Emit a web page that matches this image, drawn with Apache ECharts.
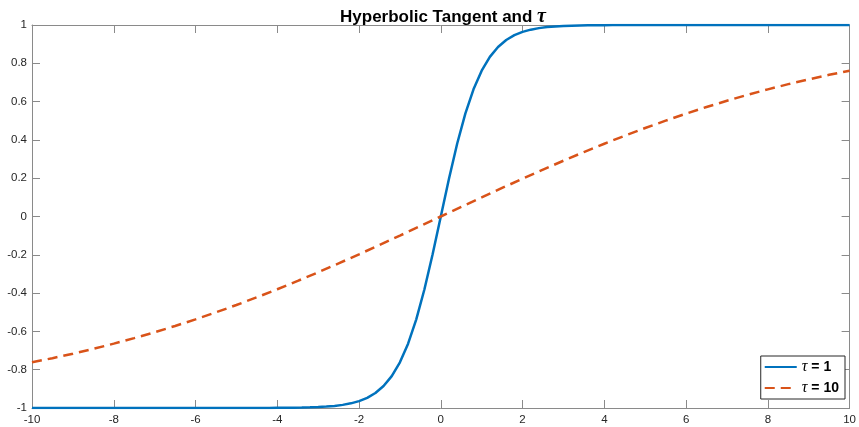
<!DOCTYPE html>
<html>
<head>
<meta charset="utf-8">
<script src="https://cdn.jsdelivr.net/npm/echarts@6/dist/echarts.min.js"></script>
<style>
  html, body { margin: 0; padding: 0; background: #fff; }
  #chart { width: 859px; height: 427px; }
</style>
</head>
<body>
<div id="chart"></div>
<script>
// tau = 1 curve: sampled densely around the origin where it bends
const xTau1 = [-10, -9, -8, -7, -6, -5, -4.8, -4.6, -4.4, -4.2, -4, -3.8, -3.6, -3.4, -3.2, -3,
  -2.8, -2.6, -2.4, -2.2, -2, -1.8, -1.6, -1.4, -1.2, -1, -0.8, -0.6, -0.4, -0.2, 0,
  0.2, 0.4, 0.6, 0.8, 1, 1.2, 1.4, 1.6, 1.8, 2, 2.2, 2.4, 2.6, 2.8, 3, 3.2, 3.4, 3.6,
  3.8, 4, 4.2, 4.4, 4.6, 4.8, 5, 6, 7, 8, 9, 10];
const yTau1 = [-1, -1, -1, -1, -1, -0.9999, -0.9999, -0.9998, -0.9997, -0.9996, -0.9993, -0.9990,
  -0.9985, -0.9978, -0.9967, -0.9951, -0.9926, -0.9890, -0.9837, -0.9757, -0.9640, -0.9468,
  -0.9217, -0.8854, -0.8337, -0.7616, -0.6640, -0.5370, -0.3799, -0.1974, 0,
  0.1974, 0.3799, 0.5370, 0.6640, 0.7616, 0.8337, 0.8854, 0.9217, 0.9468, 0.9640, 0.9757,
  0.9837, 0.9890, 0.9926, 0.9951, 0.9967, 0.9978, 0.9985, 0.9990, 0.9993, 0.9996, 0.9997,
  0.9998, 0.9999, 0.9999, 1, 1, 1, 1, 1];

// tau = 10 curve
const xTau10 = [-10, -9.5, -9, -8.5, -8, -7.5, -7, -6.5, -6, -5.5, -5, -4.5, -4, -3.5, -3, -2.5,
  -2, -1.5, -1, -0.5, 0, 0.5, 1, 1.5, 2, 2.5, 3, 3.5, 4, 4.5, 5, 5.5, 6, 6.5, 7, 7.5, 8,
  8.5, 9, 9.5, 10];
const yTau10 = [-0.7616, -0.7398, -0.7163, -0.6911, -0.6640, -0.6352, -0.6044, -0.5717, -0.5371,
  -0.5005, -0.4621, -0.4219, -0.3799, -0.3364, -0.2913, -0.2449, -0.1974, -0.1489, -0.0997,
  -0.0500, 0, 0.0500, 0.0997, 0.1489, 0.1974, 0.2449, 0.2913, 0.3364, 0.3799, 0.4219,
  0.4621, 0.5005, 0.5371, 0.5717, 0.6044, 0.6352, 0.6640, 0.6911, 0.7163, 0.7398, 0.7616];

const xTicks = { min: -10, max: 10, interval: 2 };
const yTicks = { min: -1, max: 1, interval: 0.2 };

const titleMain = 'Hyperbolic Tangent and ';
const tauSymbol = 'τ';
const legendNames = ['τ = 1', 'τ = 10'];

const axisGray = '#8a8a8a';
const labelColor = '#262626';
const sansFont = '"Liberation Sans", Arial, Helvetica, sans-serif';
const serifFont = '"Liberation Serif", "Times New Roman", serif';

function pairs(xs, ys) { return xs.map((x, i) => [x, ys[i]]); }

function fmtY(v) {
  const r = Math.round(v * 10) / 10;
  if (r === 0) return '0';
  if (r === 1) return '1';
  if (r === -1) return '-1';
  return String(r);
}

const chart = echarts.init(document.getElementById('chart'), null, { renderer: 'canvas' });

const baseX = {
  type: 'value', min: xTicks.min, max: xTicks.max, interval: xTicks.interval,
  axisLine: { show: true, onZero: false, lineStyle: { color: axisGray, width: 1 } },
  axisTick: { show: true, inside: true, length: 8, lineStyle: { color: axisGray } },
  splitLine: { show: false }
};
const baseY = {
  type: 'value', min: yTicks.min, max: yTicks.max, interval: yTicks.interval,
  axisLine: { show: true, onZero: false, lineStyle: { color: axisGray, width: 1 } },
  axisTick: { show: true, inside: true, length: 8, lineStyle: { color: axisGray } },
  splitLine: { show: false }
};

chart.setOption({
  animation: false,
  backgroundColor: '#ffffff',
  title: {
    text: '{m|' + titleMain + '}{t|' + tauSymbol + '}',
    left: 438, top: 2, textAlign: 'center',
    textStyle: {
      rich: {
        m: { fontFamily: sansFont, fontWeight: 'bold', fontSize: 17, color: '#000' },
        t: { fontFamily: serifFont, fontStyle: 'italic', fontSize: 20, color: '#000' }
      }
    }
  },
  grid: { left: 32, right: 7, top: 25, bottom: 19, containLabel: false },
  xAxis: [
    Object.assign({}, baseX, {
      position: 'bottom',
      axisLabel: { show: true, margin: 6, color: labelColor, fontSize: 11.5, fontFamily: sansFont }
    }),
    Object.assign({}, baseX, { position: 'top', axisLabel: { show: false } })
  ],
  yAxis: [
    Object.assign({}, baseY, {
      position: 'left',
      axisLabel: { show: true, margin: 5, color: labelColor, fontSize: 11.5, fontFamily: sansFont,
        formatter: fmtY }
    }),
    Object.assign({}, baseY, { position: 'right', axisLabel: { show: false } })
  ],
  legend: {
    data: legendNames,
    orient: 'vertical',
    right: 14, bottom: 28,
    itemWidth: 32, itemHeight: 12, itemGap: 5,
    backgroundColor: '#fff',
    borderColor: '#262626', borderWidth: 1, borderRadius: 0,
    padding: [3, 6, 3, 3],
    itemStyle: { color: 'transparent', borderColor: 'transparent', borderWidth: 0, opacity: 0 },
    formatter: function (name) {
      return '{t|τ}{b|' + name.slice(1) + '}';
    },
    textStyle: {
      rich: {
        t: { fontFamily: serifFont, fontStyle: 'italic', fontSize: 16, color: '#000', lineHeight: 16 },
        b: { fontFamily: sansFont, fontWeight: 'bold', fontSize: 14, color: '#000', lineHeight: 16 }
      }
    }
  },
  series: [
    {
      name: legendNames[0], type: 'line', xAxisIndex: 0, yAxisIndex: 0,
      data: pairs(xTau1, yTau1), symbol: 'none', smooth: false,
      lineStyle: { color: '#0072BD', width: 2.5 }, itemStyle: { color: '#0072BD' }
    },
    {
      name: legendNames[1], type: 'line', xAxisIndex: 0, yAxisIndex: 0,
      data: pairs(xTau10, yTau10), symbol: 'none', smooth: false,
      lineStyle: { color: '#D95319', width: 2.5, type: [10, 6] }, itemStyle: { color: '#D95319' }
    }
  ]
});
</script>
</body>
</html>
